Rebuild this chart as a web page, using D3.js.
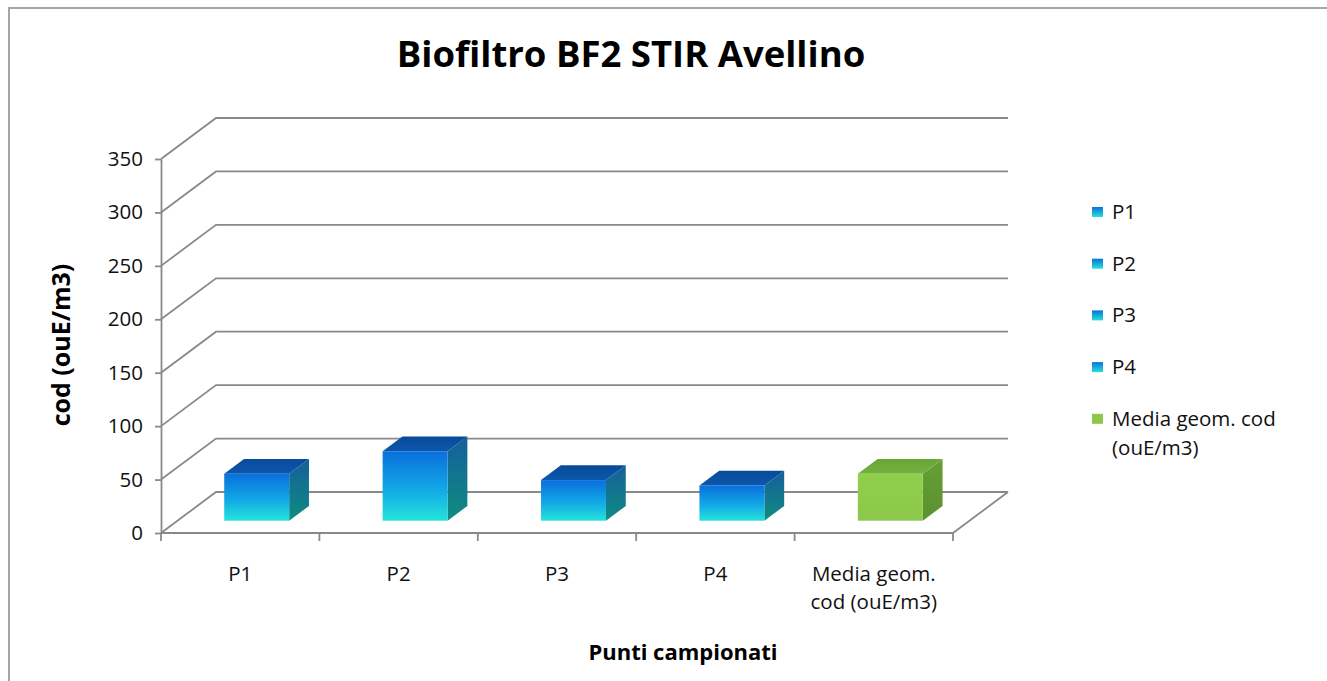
<!DOCTYPE html>
<html>
<head>
<meta charset="utf-8">
<script src="https://cdn.jsdelivr.net/npm/d3@7"></script>
<style>
  body { margin: 0; background: #fff; }
  svg { display: block; font-family: "Open Sans", sans-serif; }
</style>
</head>
<body>
<div id="chart"></div>
<script>
// chart data
const categories = ["P1", "P2", "P3", "P4", "Media geom. cod (ouE/m3)"]
const values = [44, 65, 38, 33, 44]
const yTicks = [0, 50, 100, 150, 200, 250, 300, 350]
const title = "Biofiltro BF2 STIR Avellino"
const yTitle = "cod (ouE/m3)"
const xTitle = "Punti campionati"

const width = 1327, height = 681
// 3d wall offset (back plane relative to front plane)
const DX = 55, DY = -41
const depthFront = 0.3, depthBack = 0.66
const lineColor = "#898989"

const svg = d3.select("#chart").append("svg")
  .attr("width", width)
  .attr("height", height)

const defs = svg.append("defs")
function grad(id, stops) {
  const g = defs.append("linearGradient").attr("id", id)
    .attr("x1", 0).attr("y1", 0).attr("x2", 0).attr("y2", 1)
  stops.forEach(([o, c]) => g.append("stop").attr("offset", o).attr("stop-color", c))
}
grad("blueFront", [[0, "#0a6fdc"], [0.55, "#12a8e6"], [1, "#24e4da"]])
grad("blueSide", [[0, "#155f9c"], [1, "#0f8c80"]])
grad("blueTop", [[0, "#0a4a98"], [1, "#0b58ae"]])
grad("greenFront", [[0, "#8fcf4c"], [1, "#8cc84a"]])
grad("greenSide", [[0, "#66a034"], [1, "#5b9030"]])
grad("greenTop", [[0, "#6aa536"], [1, "#74b03e"]])
grad("legendBlue", [[0, "#0a72dc"], [1, "#26e0d8"]])

const faces = d3.scaleOrdinal()
  .domain(categories)
  .range(["blue", "blue", "blue", "blue", "green"])

// outer border
svg.append("rect")
  .attr("x", 9).attr("y", 8)
  .attr("width", 1360).attr("height", 720)
  .attr("fill", "none")
  .attr("stroke", "#a6a6a6")
  .attr("stroke-width", 2)

const y = d3.scaleLinear().domain([0, 350]).range([533, 159])
const x = d3.scaleBand().domain(categories).range([161, 953])
const xEnd = 953

// walls + gridlines
const grid = svg.append("g").attr("fill", "none").attr("stroke", lineColor).attr("stroke-width", 1.8)
yTicks.forEach(t => {
  const p = d3.path()
  p.moveTo(161, y(t))
  p.lineTo(161 + DX, y(t) + DY)
  p.lineTo(xEnd + DX, y(t) + DY)
  grid.append("path").attr("d", p.toString())
})
// floor right edge
grid.append("line")
  .attr("x1", xEnd).attr("y1", y(0))
  .attr("x2", xEnd + DX).attr("y2", y(0) + DY)

// y axis
const yAxis = svg.append("g")
  .attr("transform", "translate(161,0)")
  .call(d3.axisLeft(y).tickValues(yTicks).tickSize(6).tickSizeOuter(0).tickPadding(12))
yAxis.select(".domain").attr("stroke", lineColor).attr("stroke-width", 1.8)
yAxis.selectAll(".tick line").attr("stroke", lineColor).attr("stroke-width", 1.8)
yAxis.selectAll(".tick text")
  .attr("font-family", "Open Sans").attr("font-size", 20.5).attr("fill", "#111")

// x axis line + boundary ticks
const xAxis = svg.append("g").attr("stroke", lineColor).attr("stroke-width", 1.8)
xAxis.append("line").attr("x1", 161).attr("x2", xEnd).attr("y1", y(0)).attr("y2", y(0))
const bounds = categories.map(c => x(c)).concat([xEnd])
xAxis.selectAll(".xt").data(bounds).join("line")
  .attr("x1", d => d).attr("x2", d => d)
  .attr("y1", y(0)).attr("y2", y(0) + 8)

// word wrap helper
function wrap(textSel, maxW, lh) {
  textSel.each(function() {
    const t = d3.select(this)
    const words = t.text().split(" ")
    const xx = t.attr("x")
    t.text(null)
    let line = []
    let ts = t.append("tspan").attr("x", xx).attr("dy", 0)
    words.forEach(w => {
      line.push(w)
      ts.text(line.join(" "))
      if (ts.node().getComputedTextLength() > maxW && line.length > 1) {
        line.pop()
        ts.text(line.join(" "))
        line = [w]
        ts = t.append("tspan").attr("x", xx).attr("dy", lh).text(w)
      }
    })
  })
}

// category labels
svg.append("g").selectAll("text").data(categories).join("text")
  .attr("x", d => x(d) + x.bandwidth() / 2)
  .attr("y", 581)
  .attr("text-anchor", "middle")
  .attr("font-size", 20.5)
  .attr("fill", "#111")
  .text(d => d)
  .call(wrap, 150, 28)

// bars
const bw = x.bandwidth() * 0.41
const sx = (depthBack - depthFront) * DX, sy = (depthBack - depthFront) * DY
const bars = svg.append("g").selectAll("g").data(categories).join("g")
bars.each(function(c, i) {
  const g = d3.select(this)
  const kind = faces(c)
  const x0 = x(c) + (x.bandwidth() - bw) / 2 + depthFront * DX
  const x1 = x0 + bw
  const yb = y(0) + depthFront * DY
  const yt = y(values[i]) + depthFront * DY
  g.append("polygon")
    .attr("points", [[x1, yb], [x1, yt], [x1 + sx, yt + sy], [x1 + sx, yb + sy]].join(" "))
    .attr("fill", `url(#${kind}Side)`)
  g.append("polygon")
    .attr("points", [[x0, yt], [x1, yt], [x1 + sx, yt + sy], [x0 + sx, yt + sy]].join(" "))
    .attr("fill", `url(#${kind}Top)`)
  g.append("rect")
    .attr("x", x0).attr("y", yt)
    .attr("width", bw).attr("height", yb - yt)
    .attr("fill", `url(#${kind}Front)`)
})

// title
svg.append("text")
  .attr("x", 631).attr("y", 67)
  .attr("text-anchor", "middle")
  .attr("font-size", 36.5)
  .attr("font-weight", 700)
  .attr("fill", "#000")
  .text(title)

// axis titles
svg.append("text")
  .attr("transform", "translate(70,345) rotate(-90)")
  .attr("text-anchor", "middle")
  .attr("font-size", 25)
  .attr("font-weight", 700)
  .attr("fill", "#000")
  .text(yTitle)

svg.append("text")
  .attr("x", 683).attr("y", 660)
  .attr("text-anchor", "middle")
  .attr("font-size", 22)
  .attr("font-weight", 700)
  .attr("fill", "#000")
  .text(xTitle)

// legend
const legend = svg.append("g").selectAll("g").data(categories).join("g")
  .attr("transform", (d, i) => `translate(1092,${212 + i * 51.7})`)
legend.append("rect")
  .attr("x", 0).attr("y", -5)
  .attr("width", 11).attr("height", 10)
  .attr("fill", d => faces(d) === "green" ? "#8cc84a" : "url(#legendBlue)")
legend.append("text")
  .attr("x", 20).attr("y", 7)
  .attr("font-size", 20.5)
  .attr("fill", "#111")
  .text(d => d)
  .call(wrap, 178, 29)
</script>
</body>
</html>
